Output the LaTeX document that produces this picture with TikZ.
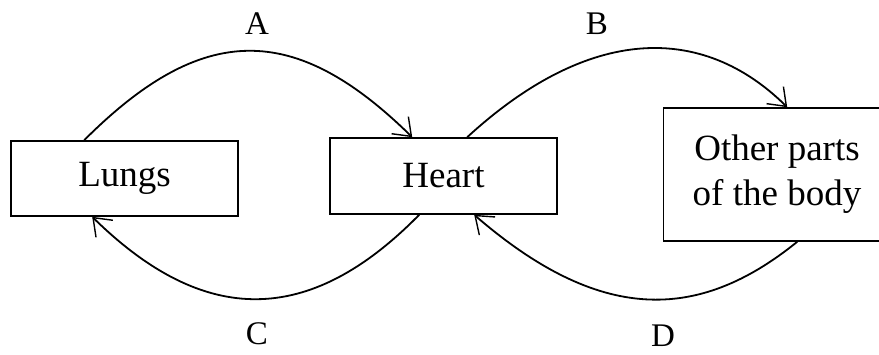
\documentclass[tikz,border=0pt]{standalone}
\usepackage{fontspec}
\setmainfont{Liberation Serif}
\usetikzlibrary{arrows.meta}
\begin{document}
\begin{tikzpicture}[x=1pt,y=-1pt,
  organ/.style={draw, line width=1.6pt, rectangle, inner sep=0pt, minimum width=227pt,
    align=center, font=\fontsize{37}{45}\selectfont},
  flow/.style={line width=1.8pt, -{Straight Barb[length=16pt,width=24pt,line width=1.4pt]}},
  lbl/.style={font=\fontsize{33}{36}\selectfont, inner sep=0pt}]
\useasboundingbox (0,0) rectangle (879,355);
\node[organ, minimum height=75pt] (lungs) at (124.5,178.5) {Lungs};
\node[organ, minimum height=76pt] (heart) at (443.5,176) {Heart};
\node[organ, minimum height=133pt] (other) at (777,174.5) {Other parts\\of the body};
\node[lbl] (la) at (257,24) {A};
\node[lbl] (lb) at (597,24) {B};
\node[lbl] (lc) at (257,334) {C};
\node[lbl] (ld) at (663,336) {D};
% A: lungs -> heart (top)
\draw[flow] ([xshift=74pt]lungs.north west) .. controls +(118,-118) and +(-118,-116) .. ([xshift=83pt]heart.north west);
% B: heart -> other parts (top)
\draw[flow] ([xshift=138pt]heart.north west) .. controls +(122,-112) and +(-85,-84) .. ([xshift=124.5pt]other.north west);
% C: heart -> lungs (bottom)
\draw[flow] ([xshift=90pt]heart.south west) .. controls +(-110,112) and +(112,110) .. ([xshift=82pt]lungs.south west);
% D: other parts -> heart (bottom)
\draw[flow] ([xshift=134.5pt]other.south west) .. controls +(-100,81) and +(125,108) .. ([xshift=145pt]heart.south west);
\end{tikzpicture}
\end{document}
